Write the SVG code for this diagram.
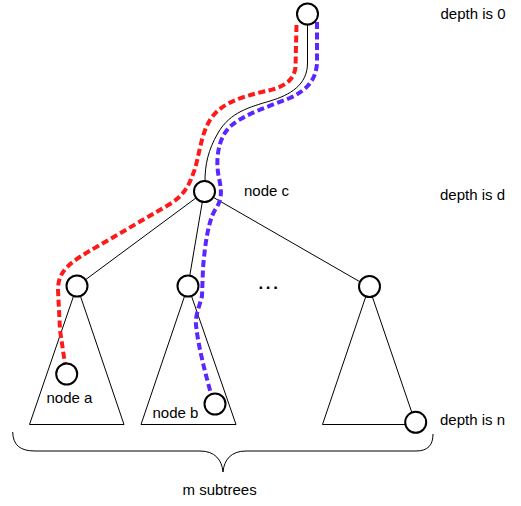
<svg xmlns="http://www.w3.org/2000/svg" width="521" height="506" viewBox="0 0 521 506">
<style>
.e{fill:none;stroke:#000;stroke-width:1}
.n{fill:#fff;stroke:#000;stroke-width:2}
.t{font-family:"Liberation Sans",Arial,sans-serif;font-size:15px;fill:#000}
.red{fill:none;stroke:#ff1a1a;stroke-width:4;stroke-dasharray:7 3.5}
.blue{fill:none;stroke:#5b26ff;stroke-width:4;stroke-dasharray:7 3.5}
</style>
<rect width="521" height="506" fill="#fff"/>
<g id="connectors">
<path class="e" d="M307.5,24.5 L307.5,63 C307.5,85 290,95 270,101 C250,107 230,112 218,133 C208,150 205,165 205,181"/>
<line class="e" x1="204" y1="192" x2="77" y2="286"/>
<line class="e" x1="204" y1="192" x2="188" y2="286"/>
<line class="e" x1="204" y1="192" x2="369" y2="287"/>
<path class="e" d="M77,286 L29.5,424.5 L124,424.5 Z"/>
<path class="e" d="M188,286 L141,424.5 L236,424.5 Z"/>
<path class="e" d="M412,413 L369,287 L322.5,424.5 L406,424.5"/>
<path class="e" d="M12.7,432 C13,445 20,451 35,451 L200,451 C215,451 222,460 223,472 C224,460 231,451 246,451 L416,451 C428,451 433,445 433,434"/>
<path class="red" d="M296.5,25 L295.5,67 C294,82 282,88 262,92 C240,97 220,104 210,120 C200,136 199,160 193,174 C189,186 183,196 170,204 L100,245 C70,262 58,270 58,290 L60,330 L65,364"/>
<path class="blue" d="M317,22 L317,63 C316,80 307,90 290,98 C270,106 245,114 232,125 C218,136 215,160 219,178 C222,192 222,200 215,210 C208,222 205,245 203,268 L202,296 C200,305 195,315 196,325 C198,345 205,372 211,394"/>
</g>
<g id="root"><circle class="n" cx="307.5" cy="14" r="10.5"/></g>
<g id="nodec"><circle class="n" cx="204.5" cy="191.5" r="10.5"/><text class="t" x="244" y="195.5">node c</text></g>
<g id="child1"><circle class="n" cx="77" cy="286" r="10.5"/></g>
<g id="child2"><circle class="n" cx="188" cy="286" r="10.5"/></g>
<g id="childm"><circle class="n" cx="369.5" cy="286.5" r="10.5"/></g>
<g id="nodea"><circle class="n" cx="66.7" cy="374" r="10.5"/><text class="t" x="46.5" y="403">node a</text></g>
<g id="nodeb"><circle class="n" cx="215" cy="404" r="10.5"/><text class="t" x="152.5" y="418">node b</text></g>
<g id="noden"><circle class="n" cx="415.7" cy="422.3" r="10.5"/></g>
<g id="labels">
<text class="t" x="440.5" y="19">depth is 0</text>
<text class="t" x="440" y="199.5">depth is d</text>
<text class="t" x="440" y="424.5">depth is n</text>
<text class="t" x="182.5" y="494.5">m subtrees</text>
<text class="t" x="258.5" y="289" style="font-weight:bold;font-size:17px;letter-spacing:2.6px">...</text>
</g>
</svg>
